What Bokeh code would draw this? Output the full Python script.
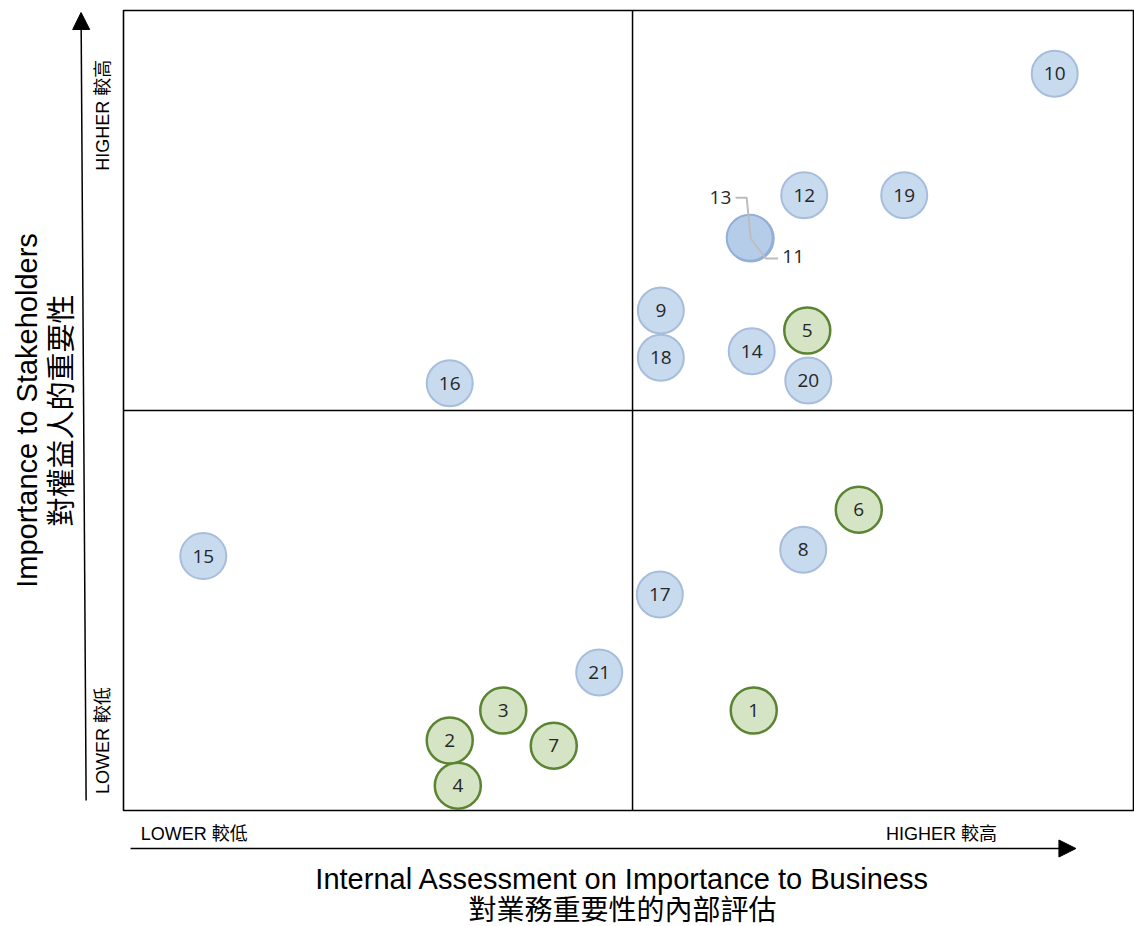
import math
from bokeh.plotting import figure
from bokeh.models import Range1d, ColumnDataSource, Arrow, NormalHead
from bokeh.core.properties import value
from bokeh.embed import file_html
from bokeh.resources import INLINE

# ---- data ----
ids = ["1", "2", "3", "4", "5", "6", "7", "8", "9", "10", "11", "12", "13",
       "14", "15", "16", "17", "18", "19", "20", "21"]
business = [6.24, 3.23, 3.76, 3.31, 6.77, 7.28, 4.26, 6.73, 5.32, 9.22, 6.21, 6.74, 6.20,
            6.22, 0.79, 3.23, 5.31, 5.32, 7.73, 6.78, 4.71]
stakeholders = [1.25, 0.875, 1.25, 0.31, 6.0, 3.76, 0.81, 3.26, 6.25, 9.21, 7.15, 7.69, 7.16,
                5.74, 3.18, 5.34, 2.70, 5.66, 7.69, 5.375, 1.725]
group = ["green"] * 7 + ["blue"] * 14
x_mid = 5.04
y_mid = 5.0

x_title = ["Internal Assessment on Importance to Business", "對業務重要性的內部評估"]
y_title = ["Importance to Stakeholders", "對權益人的重要性"]
low_label = "LOWER 較低"
high_label = "HIGHER 較高"

FONT = "Liberation Sans, Noto Sans CJK TC"

fill_map = {"green": "#d4e4c4", "blue": "#c8daee"}
line_map = {"green": "#5b8432", "blue": "#a7bddc"}
fills = [fill_map[g] for g in group]
lines = [line_map[g] for g in group]
widths = [2.5 if g == "green" else 2.0 for g in group]
# overlapping pair 11 / 13
for k in ("11", "13"):
    i = ids.index(k)
    fills[i] = "#b5cde9"
    lines[i] = "#93aed8"

inside = [i not in ("11", "13") for i in ids]

p = figure(width=1134, height=926, output_backend="svg", toolbar_location=None,
           x_range=Range1d(-1.2178, 10.0099), y_range=Range1d(-1.45, 10.125),
           min_border=0, min_border_left=0, min_border_right=0,
           min_border_top=0, min_border_bottom=0)
p.axis.visible = False
p.grid.visible = False
p.outline_line_color = None
p.background_fill_color = "white"

# frame and quadrant lines
p.quad(left=[0], right=[10], bottom=[0], top=[10], fill_color=None,
       line_color="black", line_width=1.6)
p.segment(x0=[x_mid, 0], y0=[0, y_mid], x1=[x_mid, 10], y1=[10, y_mid],
          line_color="black", line_width=1.5)

src = ColumnDataSource(dict(x=business, y=stakeholders, id=ids, fill=fills,
                            line=lines, w=widths))
p.scatter(x="x", y="y", source=src, size=46, fill_color="fill", line_color="line",
          line_width="w")

# leader lines for 11 / 13 (drawn over the circles)
i11 = ids.index("11")
i13 = ids.index("13")
cx, cy = business[i11], stakeholders[i11]
p.line(x=[cx - 0.15, cx - 0.04, cx, cx + 0.15, cx + 0.27],
       y=[cy + 0.51, cy + 0.51, cy, cy - 0.25, cy - 0.25],
       line_color="#bdbdbd", line_width=2)

ins = [i for i in range(len(ids)) if inside[i]]
p.text(x=[business[i] for i in ins], y=[stakeholders[i] for i in ins],
       text=[ids[i] for i in ins], text_font=value("Open Sans"), text_font_size="19px",
       text_color="#262626", text_align="center", text_baseline="middle")
p.text(x=[cx - 0.3], y=[cy + 0.51], text=[ids[i13]], text_font=value("Open Sans"),
       text_font_size="19px", text_color="#262626", text_align="center",
       text_baseline="middle")
p.text(x=[cx + 0.42], y=[cy - 0.22], text=[ids[i11]], text_font=value("Open Sans"),
       text_font_size="19px", text_color="#262626", text_align="center",
       text_baseline="middle")

# axis arrows
head = dict(size=17, fill_color="black", line_color="black")
p.add_layout(Arrow(end=NormalHead(**head), x_start=-0.37, y_start=0.125,
                   x_end=-0.42, y_end=9.975, line_color="black", line_width=1.5))
p.add_layout(Arrow(end=NormalHead(**head), x_start=0.07, y_start=-0.475,
                   x_end=9.43, y_end=-0.475, line_color="black", line_width=1.5))

# end labels
p.text(x=[-0.2, -0.2], y=[8.69, 0.875], text=[high_label, low_label],
       angle=math.pi / 2, text_font=value(FONT), text_font_size="18px",
       text_color="black", text_align="center", text_baseline="middle")
p.text(x=[0.17, 7.55], y=[-0.29, -0.29], text=[low_label, high_label],
       text_font=value(FONT), text_font_size="18px", text_color="black",
       text_align="left", text_baseline="middle")

# titles
p.text(x=[4.94], y=[-0.855], text=[x_title[0]], text_font=value(FONT),
       text_font_size="29px", text_color="black", text_align="center",
       text_baseline="middle")
p.text(x=[4.94], y=[-1.245], text=[x_title[1]], text_font=value(FONT),
       text_font_size="28px", text_color="black", text_align="center",
       text_baseline="middle")
p.text(x=[-0.955, -0.61], y=[5.0, 5.0], text=y_title, angle=math.pi / 2,
       text_font=value(FONT), text_font_size="29px", text_color="black",
       text_align="center", text_baseline="middle")

open("out.html", "w").write(file_html(p, INLINE))
